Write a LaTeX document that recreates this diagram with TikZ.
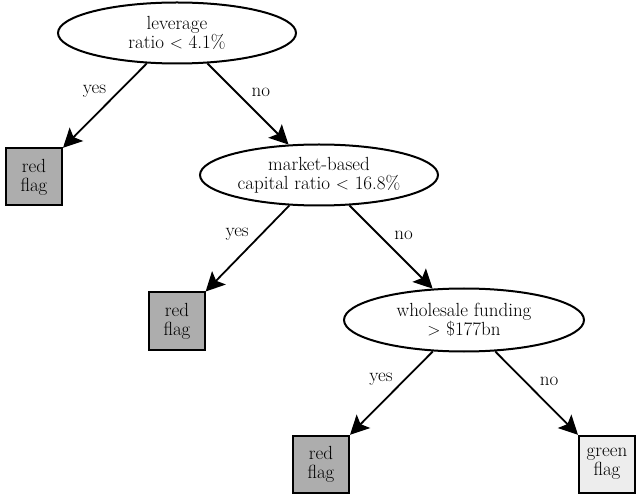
\documentclass[tikz,border=0pt]{standalone}
\usepackage{tikz}
\usetikzlibrary{arrows.meta,positioning,shapes.geometric}

\tikzset{
  test/.style={ellipse, draw, line width=2pt, minimum width=238pt, minimum height=61pt, align=center, inner sep=0pt},
  redflag/.style={rectangle, draw, line width=2pt, fill=black!32, minimum width=56pt, minimum height=57pt, align=center, inner sep=0pt},
  greenflag/.style={redflag, fill=black!7},
  branch/.style={line width=1.8pt, -{Stealth[length=19pt,width=19pt,inset=4pt]}},
  ans/.style={inner sep=0pt}
}

\begin{document}
\begin{tikzpicture}[x=1pt, y=-1pt, font=\fontsize{19}{19}\selectfont]
    \useasboundingbox (0,0) rectangle (637,494);
    % tests
    \node[test] (lev) at (177,33) {leverage\\ratio $<$ 4.1\%};
    \node[test] (mkt) at (319,175) {market-based\\capital ratio $<$ 16.8\%};
    \node[test, minimum width=240pt, minimum height=63pt] (whl) at (464,320) {wholesale funding\\$>$ \$177bn};
    % leaves
    \node[redflag] (red1) at (34,177) {red\\flag};
    \node[redflag] (red2) at (177,321) {red\\flag};
    \node[redflag] (red3) at (321,464) {red\\flag};
    \node[greenflag] (green) at (607,464) {green\\flag};
    % branches
    \draw[branch] (lev) -- node[ans, pos=.33, left=12pt] {yes} (red1);
    \draw[branch] (lev) -- node[ans, pos=.36, right=14pt] {no} (mkt);
    \draw[branch] (mkt) -- node[ans, pos=.33, left=12pt] {yes} (red2);
    \draw[branch] (mkt) -- node[ans, pos=.36, right=14pt] {no} (whl);
    \draw[branch] (whl) -- node[ans, pos=.33, left=12pt] {yes} (red3);
    \draw[branch] (whl) -- node[ans, pos=.36, right=14pt] {no} (green);
  \end{tikzpicture}
\end{document}
